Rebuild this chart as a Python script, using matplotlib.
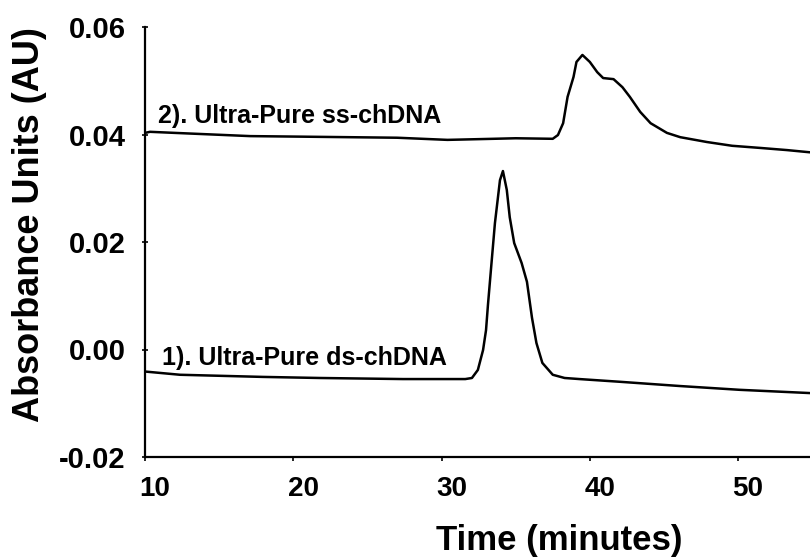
import matplotlib.pyplot as plt
import matplotlib.transforms as mtransforms

# -----------------------------------
# Data
# -----------------------------------
time_ss = [10.0, 10.34, 12.0, 17.1, 20.5, 27.0, 30.4, 33.5, 35.0, 37.5, 37.85,
           38.2, 38.5, 38.9, 39.1, 39.5, 40.0, 40.5, 40.9, 41.6, 42.2, 42.7,
           43.4, 44.1, 45.2, 46.1, 47.9, 49.6, 51.5, 53.3, 54.8]
abs_ss = [0.0403, 0.0405, 0.0403, 0.0397, 0.0396, 0.0394, 0.0390, 0.0392, 0.0393,
          0.0392, 0.0399, 0.0421, 0.0470, 0.0507, 0.0535, 0.0548, 0.0535, 0.0516,
          0.0505, 0.0503, 0.0488, 0.0470, 0.0442, 0.0421, 0.0403, 0.0395, 0.0386,
          0.0379, 0.0375, 0.0371, 0.0367]

time_ds = [10.0, 12.36, 17.96, 21.8, 27.4, 31.6, 32.05, 32.45, 32.8, 33.0, 33.13,
           33.33, 33.6, 33.94, 34.14, 34.4, 34.6, 34.9, 35.4, 35.76, 36.1, 36.4,
           36.8, 37.5, 38.3, 39.3, 42.0, 46.1, 50.1, 54.8]
abs_ds = [-0.0041, -0.0047, -0.0051, -0.0053, -0.0055, -0.0055, -0.0053, -0.0038,
          -0.0001, 0.0036, 0.0083, 0.0148, 0.0235, 0.0315, 0.0332, 0.0297, 0.0246,
          0.0198, 0.0161, 0.0126, 0.0059, 0.0012, -0.0025, -0.0047, -0.0053,
          -0.0055, -0.0060, -0.0068, -0.0075, -0.0081]

x_ticks = [10, 20, 30, 40, 50]
y_ticks = [-0.02, 0.00, 0.02, 0.04, 0.06]
label_ss = '2). Ultra-Pure ss-chDNA'
label_ds = '1). Ultra-Pure ds-chDNA'

plt.rcParams['font.family'] = ['Liberation Sans', 'DejaVu Sans']
plt.rcParams['font.weight'] = 'bold'

fig = plt.figure(figsize=(8.1, 5.6), dpi=100)
ax = fig.add_axes([145 / 810, 103 / 560, 665 / 810, 430 / 560])

ax.plot(time_ss, abs_ss, color='black', lw=1.8)
ax.plot(time_ds, abs_ds, color='black', lw=1.8)

ax.text(10.9, 0.0421, label_ss, fontsize=18, fontweight='bold')
ax.text(11.15, -0.0029, label_ds, fontsize=18, fontweight='bold')

ax.set_xlim(10, 54.85)
ax.set_ylim(-0.02, 0.06)
ax.set_xticks(x_ticks)
ax.set_yticks(y_ticks)
ax.set_yticklabels([f'{v:.2f}' for v in y_ticks])

for side in ['top', 'right']:
    ax.spines[side].set_visible(False)
for side in ['left', 'bottom']:
    ax.spines[side].set_linewidth(1.6)

ax.tick_params(axis='x', direction='out', length=3, width=1.2, pad=11, labelsize=20)
ax.tick_params(axis='y', direction='inout', length=4, width=1.2, pad=12, labelsize=21)

# x tick labels sit a little right of their ticks in the original
shift = mtransforms.ScaledTranslation(10 / 100, 0, fig.dpi_scale_trans)
for lbl in ax.get_xticklabels():
    lbl.set_transform(lbl.get_transform() + shift)

fig.text(559 / 810, 10 / 560, 'Time (minutes)', fontsize=25, fontweight='bold',
         ha='center', va='baseline')
fig.text(30 / 810, 1 - 225 / 560, 'Absorbance Units (AU)', fontsize=26,
         fontweight='bold', rotation=90, ha='center', va='center')

fig.savefig('out.png', dpi=100)
